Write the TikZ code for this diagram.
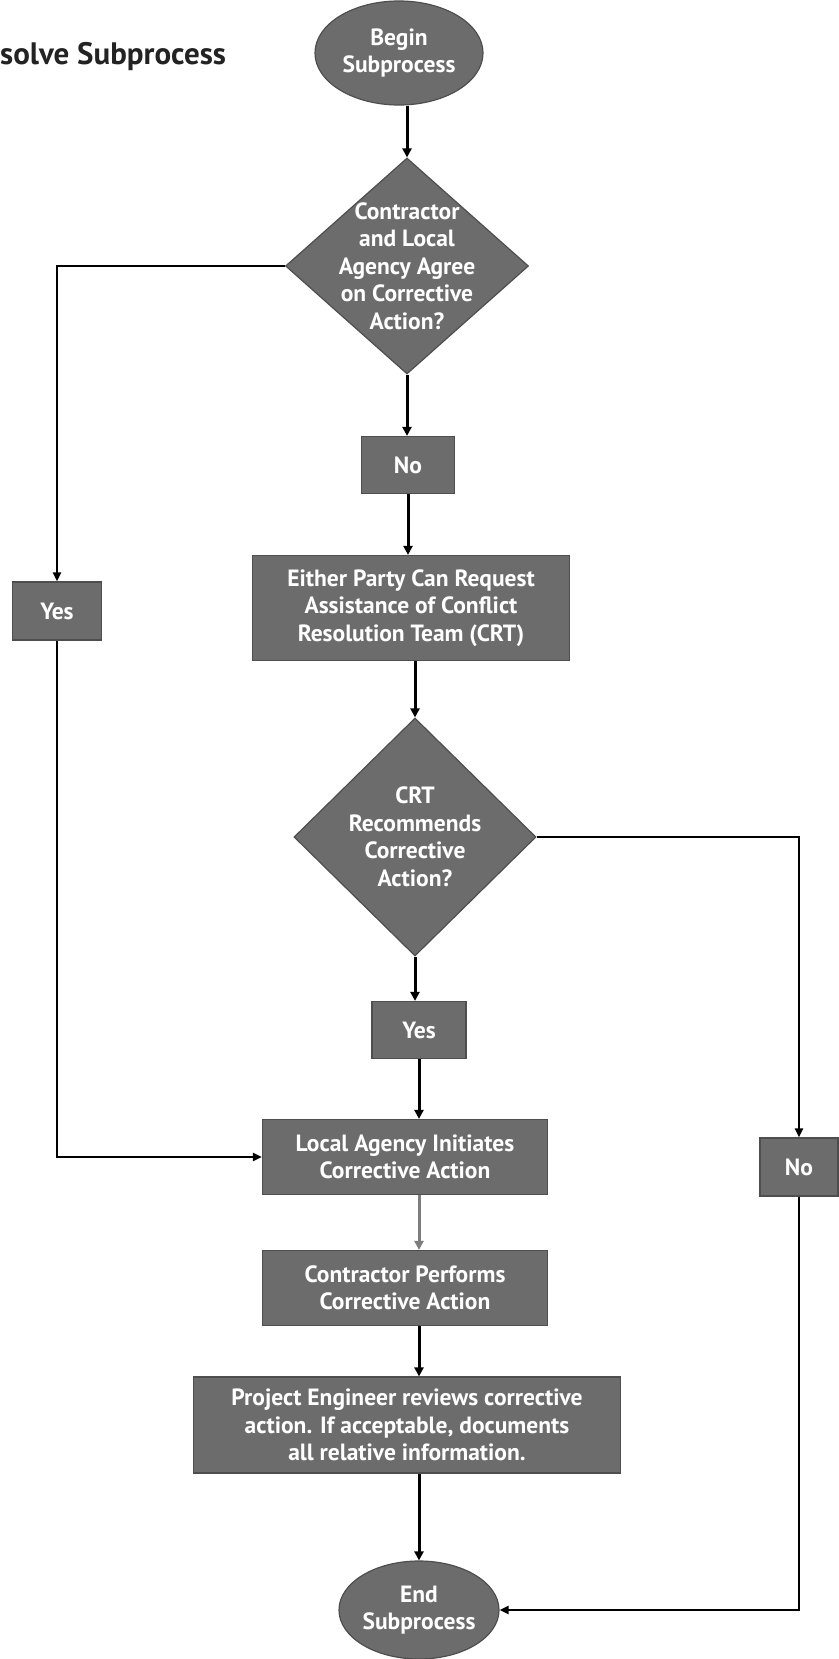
\documentclass[tikz,border=0pt]{standalone}
\usepackage{fontspec}
\setmainfont{PT Sans}
\usetikzlibrary{shapes.geometric,arrows.meta,calc}
\definecolor{boxgray}{RGB}{108,108,108}
\definecolor{edgegray}{RGB}{78,78,78}
\definecolor{lightarrow}{RGB}{125,125,125}
\definecolor{titlecol}{RGB}{35,35,35}
\begin{document}
\begin{tikzpicture}[x=1pt,y=-1pt,
  lbl/.style={text=white,font=\bfseries\fontsize{23.5}{27.5}\selectfont,align=center},
  pbox/.style={lbl,rectangle,draw=edgegray,line width=1.2pt,fill=boxgray,inner sep=0pt},
  term/.style={lbl,ellipse,draw=edgegray,line width=1.2pt,fill=boxgray,inner sep=0pt},
  dshape/.style={diamond,draw=edgegray,line width=1.2pt,fill=boxgray,inner sep=0pt},
  arr/.style={line width=3pt,-{Triangle[length=9pt,width=9pt]}},
  conn/.style={line width=2.2pt},
  connarr/.style={line width=2.2pt,-{Triangle[length=9pt,width=8pt]}}
]
\useasboundingbox[fill=white] (0,0) rectangle (838,1659);

% title
\node[anchor=west,inner sep=0pt,text=titlecol,font=\bfseries\fontsize{31}{36}\selectfont] (title) at (0,57) {solve Subprocess};

% nodes
\node[term,minimum width=168,minimum height=104] (begin) at (399,53) {Begin\\Subprocess};

\node[dshape,minimum width=243,minimum height=216] (d1) at (407,266) {};
\node[lbl] (d1t) at (d1.center) {Contractor\\and Local\\Agency Agree\\on Corrective\\Action?};

\node[pbox,minimum width=93,minimum height=57] (no1) at (408,465) {No};

\node[pbox,minimum width=317,minimum height=105] (either) at (411,608) {Either Party Can Request\\Assistance of Conflict\\Resolution Team (CRT)};

\node[dshape,minimum width=242,minimum height=238] (d2) at (415,837) {};
\node[lbl] (d2t) at (d2.center) {CRT\\Recommends\\Corrective\\Action?};

\node[pbox,minimum width=94,minimum height=57] (yes2) at (419,1030) {Yes};

\node[pbox,minimum width=89,minimum height=58] (yes1) at (57,611) {Yes};

\node[pbox,minimum width=285,minimum height=75] (local) at (405,1157) {Local Agency Initiates\\Corrective Action};

\node[pbox,minimum width=285,minimum height=75] (contr) at (405,1288) {Contractor Performs\\Corrective Action};

\node[pbox,minimum width=427,minimum height=96] (proj) at (407,1425) {Project Engineer reviews corrective\\action. If acceptable, documents\\all relative information.};

\node[term,minimum width=160,minimum height=98] (end) at (419,1610) {End\\Subprocess};

\node[pbox,minimum width=78,minimum height=58] (no2) at (799,1167) {No};

% connectors
\draw[arr] (begin.south -| d1.north) -- (d1.north);
\draw[arr] (d1.south) -- (d1.south |- no1.north);
\draw[arr] (no1.south) -- (no1.south |- either.north);
\draw[arr] (either.south -| d2.north) -- (d2.north);
\draw[arr] (d2.south) -- (d2.south |- yes2.north);
\draw[arr] (yes2.south) -- (yes2.south |- local.north);
\draw[arr,draw=lightarrow] (local.south -| yes2.south) -- (yes2.south |- contr.north);
\draw[arr] (contr.south -| yes2.south) -- (yes2.south |- proj.north);
\draw[arr] (proj.south -| yes2.south) -- (yes2.south |- end.north);

\draw[connarr] (d1.west) -- (d1.west -| yes1.north) -- (yes1.north);
\draw[connarr] (yes1.south) -- (yes1.south |- local.west) -- (local.west);
\draw[connarr] (d2.east) -- (d2.east -| no2.north) -- (no2.north);
\draw[connarr] (no2.south) -- (no2.south |- end.east) -- (end.east);
\end{tikzpicture}
\end{document}
